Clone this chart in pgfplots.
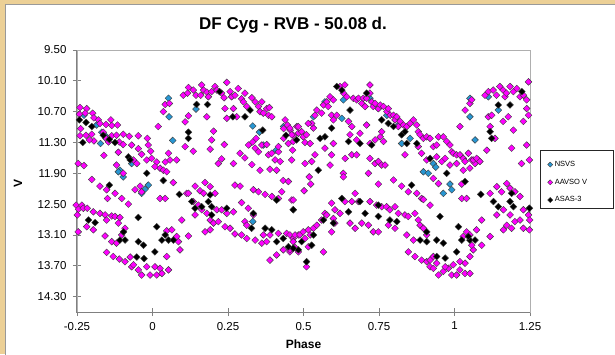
\documentclass[border=0pt]{standalone}
\usepackage{fontspec}
\setmainfont{Liberation Sans}
\usepackage{pgfplots}
\usepackage{pgfplotstable}
\pgfplotsset{compat=1.18}
\definecolor{beige}{RGB}{236,208,150}
\definecolor{nsvs}{RGB}{40,150,210}
\definecolor{mag}{RGB}{255,0,255}
\definecolor{edge}{RGB}{60,60,60}
\definecolor{axgray}{RGB}{128,128,128}
\definecolor{frgray}{RGB}{175,175,175}
\pgfplotsset{legmark/.style={legend image code/.code={\draw[##1,mark size=1.8pt] plot coordinates {(0pt,0pt)};}}}

\pgfplotstableread{
x y
-0.227 10.77
-0.185 10.96
-0.168 11.10
-0.172 11.32
-0.157 11.16
-0.108 11.84
-0.113 11.87
-0.069 11.71
0.053 10.44
0.055 10.80
0.067 11.26
0.144 10.65
0.332 10.98
0.354 11.10
0.367 11.35
0.409 11.45
0.434 10.99
0.533 10.80
0.571 10.51
0.632 10.47
0.627 10.83
0.720 10.44
0.748 10.64
0.776 10.77
0.814 10.96
0.825 11.32
0.853 11.22
0.930 11.71
0.897 11.87
0.913 11.90
0.938 11.78
1.051 10.44
1.051 10.80
1.068 11.25
1.145 10.67
1.112 10.41
-0.097 11.97
-0.036 12.29
-0.014 12.13
-0.025 12.21
0.332 12.84
0.963 12.29
0.985 12.11
0.991 12.22
}\nsvsdata

\pgfplotstableread{
x y
-0.240 10.62
-0.218 10.64
-0.242 10.75
-0.223 10.73
-0.198 10.73
-0.194 10.82
-0.179 10.86
-0.174 10.93
-0.154 10.95
-0.138 10.86
-0.135 10.97
-0.116 10.96
-0.238 11.03
-0.240 11.17
-0.220 11.16
-0.201 11.14
-0.194 11.27
-0.209 11.25
-0.163 11.10
-0.154 11.22
-0.146 11.29
-0.135 11.17
-0.119 11.16
-0.097 11.14
-0.077 11.18
-0.110 11.29
-0.097 11.34
-0.047 11.17
-0.017 11.22
-0.161 11.55
-0.113 11.49
-0.069 11.35
-0.047 11.42
-0.036 11.53
-0.014 11.35
-0.006 11.47
-0.246 11.71
-0.227 11.75
-0.119 11.74
-0.097 11.90
-0.063 11.64
-0.052 11.71
-0.019 11.64
-0.003 11.61
0.014 11.68
0.008 11.77
0.025 11.80
0.042 11.68
0.053 11.51
0.058 11.64
0.080 11.64
0.036 11.84
0.047 11.87
0.019 10.99
0.036 10.70
0.042 10.56
0.056 10.54
0.102 10.38
0.119 10.23
0.116 10.34
0.135 10.28
0.144 10.38
0.163 10.18
0.169 10.28
0.160 10.38
0.180 10.32
0.185 10.41
0.196 10.31
0.207 10.21
0.213 10.28
0.229 10.34
0.237 10.43
0.246 10.13
0.257 10.31
0.262 10.41
0.273 10.38
0.284 10.25
0.295 10.45
0.306 10.34
0.301 10.51
0.312 10.60
0.329 10.43
0.340 10.51
0.351 10.60
0.362 10.51
0.356 10.70
0.378 10.64
0.387 10.62
0.384 10.77
0.395 10.80
0.367 10.73
0.240 10.64
0.268 10.64
0.246 10.83
0.279 10.80
0.180 10.80
0.119 10.78
0.108 10.90
0.202 11.08
0.196 11.25
0.135 11.47
0.108 11.38
0.238 11.34
0.191 11.43
0.229 11.62
0.218 11.71
0.268 11.71
0.290 11.51
0.306 11.60
0.329 11.73
0.318 11.35
0.332 11.29
0.343 11.22
0.340 11.41
0.351 11.48
0.362 11.35
0.378 11.34
0.384 11.54
0.395 11.51
0.406 11.64
0.417 11.48
0.423 11.67
0.411 11.84
0.389 11.82
0.356 11.84
0.439 10.86
0.447 10.96
0.456 11.06
0.466 11.16
0.478 10.99
0.483 11.12
0.434 11.22
0.417 11.38
0.450 11.32
0.464 11.45
0.434 11.03
0.455 11.02
0.461 11.15
0.466 11.28
0.483 10.99
0.494 11.09
0.499 11.19
0.510 11.15
0.505 11.30
0.522 11.32
0.533 11.02
0.527 10.93
0.538 10.77
0.544 10.67
0.560 10.73
0.566 10.57
0.577 10.51
0.582 10.60
0.588 10.41
0.599 10.47
0.593 10.77
0.610 10.77
0.599 10.86
0.621 10.21
0.637 10.18
0.643 10.41
0.632 10.34
0.649 10.89
0.654 11.15
0.660 10.99
0.665 10.44
0.676 10.47
0.682 10.44
0.693 10.54
0.698 10.44
0.704 10.60
0.709 10.44
0.720 10.34
0.720 10.18
0.726 10.51
0.731 10.60
0.737 10.54
0.748 10.64
0.754 10.57
0.765 10.60
0.776 10.70
0.781 10.64
0.787 10.77
0.798 10.77
0.803 10.86
0.809 10.80
0.814 10.99
0.820 10.89
0.831 10.96
0.842 10.99
0.853 10.93
0.864 10.86
0.875 10.96
0.880 11.09
0.886 11.15
0.897 11.22
0.908 11.19
0.919 11.22
0.930 11.38
0.941 11.35
0.947 11.19
0.963 11.19
0.974 11.28
0.985 11.35
0.991 11.48
0.996 11.51
1.007 11.54
1.018 11.54
1.029 11.61
1.035 11.67
1.046 11.51
1.057 11.64
1.068 11.71
1.079 11.64
1.018 10.99
1.035 10.67
1.051 10.54
1.057 10.47
1.112 10.80
1.118 10.99
1.123 10.77
1.134 11.22
1.107 11.45
1.101 10.38
1.112 10.31
1.128 10.28
1.139 10.38
1.150 10.21
1.161 10.28
1.167 10.41
1.172 10.34
1.184 10.21
1.195 10.31
1.206 10.25
1.217 10.41
1.228 10.38
1.239 10.47
1.245 10.12
1.239 10.64
1.245 10.77
1.228 10.89
1.195 11.06
1.178 10.80
1.189 11.41
1.239 11.35
1.222 11.71
1.248 11.64
0.709 10.96
0.687 11.12
0.676 11.25
0.720 11.32
0.737 11.25
0.754 11.19
0.759 11.09
0.765 11.28
0.599 11.32
0.571 11.41
0.593 11.54
0.538 11.54
0.505 11.71
0.527 11.67
0.588 11.74
0.632 11.90
0.638 11.61
0.660 11.54
0.676 11.54
0.720 11.61
0.737 11.71
0.748 11.67
0.759 11.74
0.770 11.74
0.715 11.90
0.836 11.54
0.880 11.38
0.891 11.51
0.908 11.64
0.941 11.58
0.958 11.67
0.969 11.61
0.985 11.74
1.007 11.71
1.029 11.84
1.051 11.80
1.062 11.64
1.073 11.61
1.084 11.67
1.161 10.89
0.461 11.64
0.516 10.93
-0.201 12.02
-0.174 12.15
-0.152 12.22
-0.124 12.29
-0.149 12.39
-0.102 12.39
-0.080 12.50
-0.058 12.22
-0.041 12.15
-0.036 12.26
0.025 12.39
0.042 12.39
0.069 12.08
-0.253 12.52
-0.234 12.52
-0.245 12.60
-0.229 12.58
-0.216 12.58
-0.196 12.65
-0.174 12.68
-0.157 12.71
-0.152 12.81
-0.135 12.73
-0.124 12.74
-0.108 12.76
-0.113 12.87
-0.091 12.97
-0.249 12.71
-0.246 13.04
-0.218 12.94
-0.196 13.00
-0.157 13.12
-0.135 13.23
-0.119 13.26
-0.102 13.10
-0.152 13.44
-0.130 13.52
-0.110 13.57
-0.091 13.62
-0.074 13.53
-0.069 13.72
-0.047 13.78
-0.063 13.68
-0.036 13.88
-0.019 13.72
-0.008 13.88
0.008 13.72
0.014 13.88
0.031 13.85
0.025 13.75
0.047 13.52
0.053 13.78
0.086 13.23
0.091 13.39
0.119 13.12
0.097 12.81
0.113 12.29
0.047 13.02
0.064 13.00
0.080 13.13
0.119 12.29
0.141 12.15
0.157 12.24
0.174 12.08
0.169 12.29
0.191 12.16
0.207 12.29
0.135 12.45
0.152 12.52
0.163 12.61
0.180 12.68
0.213 12.61
0.229 12.61
0.246 12.68
0.268 12.65
0.191 12.81
0.202 12.87
0.218 12.84
0.240 12.94
0.257 12.97
0.174 13.04
0.191 13.00
0.141 12.71
0.273 12.13
0.290 12.15
0.334 12.22
0.351 12.26
0.373 12.31
0.395 12.35
0.417 12.39
0.433 12.04
0.450 12.06
0.428 12.26
0.461 12.42
0.295 12.47
0.317 12.58
0.334 12.71
0.306 12.84
0.312 12.91
0.273 13.08
0.295 13.10
0.312 13.17
0.340 13.20
0.362 13.26
0.378 13.23
0.367 13.10
0.389 13.10
0.417 13.07
0.444 13.07
0.466 13.17
0.483 13.10
0.389 13.59
0.411 13.49
0.433 13.39
0.455 13.43
0.502 12.24
0.524 12.11
0.519 11.97
0.632 11.97
0.748 12.11
0.798 12.03
0.825 12.15
0.847 12.26
0.875 12.29
0.891 12.39
0.919 12.52
0.897 12.41
0.947 12.10
0.930 12.00
1.024 12.11
1.024 12.39
1.040 12.39
1.118 12.29
1.140 12.16
1.156 12.26
1.173 12.10
1.184 12.19
1.200 12.26
1.217 12.35
1.140 12.71
1.162 12.61
1.184 12.71
1.173 12.91
1.189 12.97
1.200 12.84
1.217 12.81
1.228 12.61
1.245 12.71
1.249 12.81
1.228 12.97
1.248 13.00
1.162 13.00
1.118 13.13
1.090 12.81
0.455 13.10
0.472 13.10
0.488 13.10
0.499 13.04
0.516 13.00
0.533 12.97
0.544 12.91
0.560 12.81
0.571 12.68
0.577 12.71
0.593 12.48
0.604 12.61
0.621 12.68
0.637 12.45
0.660 12.45
0.671 12.29
0.682 12.45
0.599 12.78
0.593 13.04
0.604 12.87
0.720 12.45
0.742 12.52
0.759 12.55
0.775 12.55
0.786 12.61
0.803 12.55
0.814 12.68
0.836 12.71
0.847 12.74
0.869 12.68
0.880 12.81
0.886 12.91
0.897 12.97
0.654 12.87
0.671 12.97
0.693 12.87
0.715 12.91
0.731 13.04
0.748 13.04
0.781 12.91
0.803 12.97
0.842 13.10
0.864 13.20
0.847 13.43
0.869 13.52
0.891 13.59
0.908 13.62
0.919 13.72
0.930 13.75
0.947 13.88
0.963 13.81
0.980 13.75
0.991 13.88
1.007 13.88
1.018 13.78
1.035 13.85
1.051 13.85
1.035 13.65
1.018 13.62
0.996 13.68
0.969 13.72
0.941 13.65
0.930 13.52
0.919 13.59
1.051 13.52
1.062 13.39
1.057 13.30
1.090 13.30
1.040 13.04
1.051 13.10
1.073 13.00
1.029 13.13
0.455 13.39
0.472 13.34
0.483 13.43
0.466 13.23
0.505 13.17
0.516 13.33
0.522 13.10
0.566 13.43
0.510 13.72
0.466 12.42
0.908 13.10
}\aavsodata

\pgfplotstableread{
x y
-0.242 10.86
-0.220 10.91
-0.201 10.99
-0.231 11.30
-0.163 11.16
-0.143 11.24
-0.124 11.30
-0.080 11.58
-0.074 11.64
-0.019 11.90
0.119 11.10
0.119 11.22
0.146 10.56
0.182 10.56
0.222 10.31
0.266 10.80
0.306 10.80
0.323 10.67
0.365 11.06
0.442 11.16
0.477 11.25
0.555 11.22
0.571 11.19
0.593 11.02
0.610 10.21
0.627 10.28
0.654 10.67
0.687 11.32
0.726 11.35
0.709 10.34
0.759 10.86
0.781 10.93
0.798 10.99
0.825 11.15
0.836 11.09
0.842 11.32
0.875 11.32
0.919 11.61
0.974 11.90
1.118 11.09
1.123 11.22
1.145 10.57
1.184 10.57
1.223 10.31
0.649 11.28
0.549 11.84
-0.143 12.13
-0.212 12.81
-0.190 12.86
-0.047 12.76
-0.096 13.04
-0.108 13.20
-0.091 13.20
-0.047 13.23
-0.030 13.30
0.014 12.94
0.008 13.43
0.031 13.20
0.053 13.20
0.069 13.20
0.042 13.10
-0.052 13.53
-0.028 13.56
0.036 12.04
0.089 12.31
0.130 12.45
0.141 12.58
0.163 12.55
0.185 12.45
0.191 12.32
0.196 12.55
0.196 12.71
0.246 12.58
0.411 12.42
0.466 12.61
0.334 12.68
0.328 12.97
0.373 12.97
0.395 13.00
0.411 13.23
0.433 13.17
0.450 13.33
0.466 13.36
0.483 13.39
0.466 12.61
0.533 13.10
0.494 13.23
0.466 13.36
0.510 13.62
0.527 13.30
0.566 12.81
0.599 12.87
0.627 12.39
0.649 12.65
0.687 12.45
0.748 12.52
0.704 12.68
0.748 12.74
0.786 12.81
0.809 12.84
0.858 12.13
0.908 13.04
0.886 13.20
0.908 13.23
0.941 13.20
0.963 13.26
0.952 12.74
1.013 12.94
1.007 13.43
0.941 13.52
0.969 13.55
1.024 13.20
1.051 13.20
1.068 13.20
1.046 13.13
1.035 12.06
1.087 12.31
1.129 12.45
1.145 12.55
1.189 12.29
1.184 12.45
1.195 12.55
1.248 12.58
}\asasdata

\begin{document}
\begin{tikzpicture}
\useasboundingbox (0pt,0pt) rectangle (615pt,354pt);
\fill[beige] (0pt,0pt) rectangle (615pt,354pt);
\filldraw[fill=white, draw=gray!80, line width=1pt] (5.5pt,-3pt) rectangle (620pt,349.5pt);
\begin{axis}[
  at={(77pt,42pt)}, anchor=south west,
  scale only axis, width=453pt, height=262pt,
  xmin=-0.25, xmax=1.25, ymin=9.5, ymax=14.6, y dir=reverse,
  clip=false,
  axis line style={draw=frgray, line width=0.7pt},
  xtick={-0.25,0,0.25,0.5,0.75,1,1.25},
  xticklabels={-0.25,0,0.25,0.5,0.75,1,1.25},
  ytick={9.5,10.1,10.7,11.3,11.9,12.5,13.1,13.7,14.3},
  yticklabels={9.50,10.10,10.70,11.30,11.90,12.50,13.10,13.70,14.30},
  xtick pos=bottom, ytick pos=left,
  tick align=center, major tick length=8pt,
  tick style={draw=axgray, line width=0.8pt},
  ticklabel style={font=\fontsize{11.5}{13}\selectfont},
  yticklabel style={xshift=-3pt},
  xticklabel style={yshift=-2.5pt},
  title={DF Cyg - RVB - 50.08 d.},
  title style={font=\fontsize{17}{20}\selectfont\bfseries, at={(axis description cs:0.4768,1.0735)}, anchor=center},
  xlabel={Phase},
  xlabel style={font=\fontsize{12}{14}\selectfont\bfseries, at={(axis description cs:0.5,-0.1240)}, anchor=center},
  ylabel={V},
  ylabel style={font=\fontsize{12}{14}\selectfont\bfseries, at={(axis description cs:-0.130,0.492)}, anchor=center},
  legend style={at={(axis description cs:1.0386,0.495)}, anchor=west, draw=none, fill=none,
    font=\fontsize{7.5}{8}\selectfont, row sep=7pt, inner sep=0pt,
    /tikz/every even column/.append style={column sep=-1.5pt}},
  legend cell align=left,
  mark size=2.4pt,
]
\draw[axgray, line width=1pt] (axis cs:-0.25,9.5) -- (axis cs:-0.25,14.6) -- (axis cs:1.25,14.6);
\addplot[only marks, mark=square*, mark options={rotate=45, draw=edge, fill=nsvs, line width=0.4pt}, legmark] table {\nsvsdata};
\addlegendentry{NSVS}
\addplot[only marks, mark=square*, mark options={rotate=45, draw=edge, fill=mag, line width=0.4pt}, legmark] table {\aavsodata};
\addlegendentry{AAVSO V}
\addplot[only marks, mark=square*, mark options={rotate=45, draw=edge, fill=black, line width=0.4pt}, legmark] table {\asasdata};
\addlegendentry{ASAS-3}
\end{axis}
\draw[black!85, line width=0.6pt] (540.7pt,146pt) rectangle (613pt,204pt);
\end{tikzpicture}
\end{document}
